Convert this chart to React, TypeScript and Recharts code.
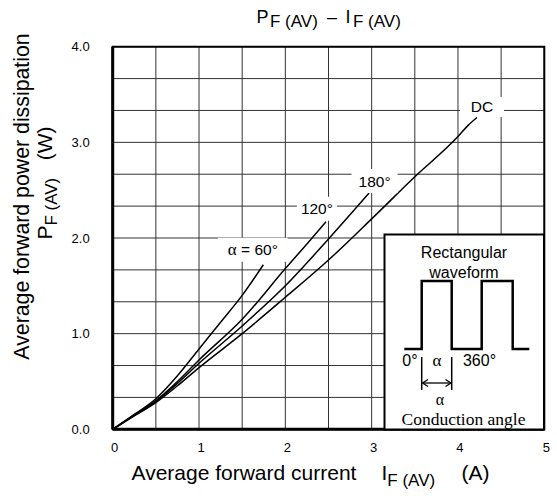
import React from "react";
import {
  LineChart,
  Line,
  XAxis,
  YAxis,
  CartesianGrid,
  ReferenceArea,
  LabelList,
} from "recharts";

// average forward current I_F(AV) (A) vs average forward power P_F(AV) (W)
const currentDC = [0, 0.25, 0.5, 0.75, 1.0, 1.5, 2.0, 2.5, 3.0, 3.5, 4.0, 4.12, 4.22];
const powerDC = [0, 0.14, 0.28, 0.455, 0.645, 1.0, 1.38, 1.77, 2.2, 2.64, 3.06, 3.18, 3.26];

const current180 = [0, 0.25, 0.5, 0.75, 1.0, 1.5, 2.0, 2.5, 2.97];
const power180 = [0, 0.145, 0.29, 0.48, 0.69, 1.08, 1.5, 1.99, 2.47];

const current120 = [0, 0.25, 0.5, 0.75, 1.0, 1.5, 2.0, 2.3, 2.47];
const power120 = [0, 0.15, 0.3, 0.5, 0.725, 1.15, 1.68, 1.99, 2.17];

const current60 = [0, 0.25, 0.5, 0.75, 1.0, 1.25, 1.5, 1.745];
const power60 = [0, 0.155, 0.32, 0.56, 0.84, 1.12, 1.4, 1.72];

const xTicks = [0, 0.5, 1, 1.5, 2, 2.5, 3, 3.5, 4, 4.5, 5];
const yTicks = [0, 1 / 3, 2 / 3, 1, 4 / 3, 5 / 3, 2, 7 / 3, 8 / 3, 3, 10 / 3, 11 / 3, 4];

const SANS = "'Liberation Sans', Arial, sans-serif";
const SERIF = "'Liberation Serif', 'Times New Roman', serif";

const toPoints = (xs: number[], ys: number[]) => xs.map((x, i) => ({ x, y: ys[i] }));

const isInt = (v: number) => Math.abs(v - Math.round(v)) < 1e-6;

type LabelSpec = { text: React.ReactNode; dx: number; dy: number; w: number; h: number };

function endLabel(lastX: number, spec: LabelSpec) {
  return (props: any) => {
    const { x, y, value } = props;
    if (value !== lastX) return null;
    const cx = x + spec.dx;
    const cy = y + spec.dy;
    return (
      <g>
        <rect x={cx - spec.w / 2} y={cy - spec.h / 2} width={spec.w} height={spec.h} fill="#fff" />
        <text
          x={cx}
          y={cy + 5.5}
          textAnchor="middle"
          fontFamily={SANS}
          fontSize={15.5}
          fill="#000"
        >
          {spec.text}
        </text>
      </g>
    );
  };
}

const series = [
  {
    key: "dc",
    data: toPoints(currentDC, powerDC),
    lastX: currentDC[currentDC.length - 1],
    label: { text: "DC", dx: 5, dy: -10.5, w: 44, h: 20 },
  },
  {
    key: "180",
    data: toPoints(current180, power180),
    lastX: current180[current180.length - 1],
    label: { text: "180°", dx: 5.5, dy: -12, w: 46, h: 24 },
  },
  {
    key: "120",
    data: toPoints(current120, power120),
    lastX: current120[current120.length - 1],
    label: { text: "120°", dx: -9, dy: -13, w: 40, h: 24 },
  },
  {
    key: "60",
    data: toPoints(current60, power60),
    lastX: current60[current60.length - 1],
    label: {
      text: (
        <>
          <tspan fontFamily={SERIF} fontSize={17}>α</tspan>
          <tspan> = 60°</tspan>
        </>
      ),
      dx: -10.5,
      dy: -15,
      w: 70,
      h: 24,
    },
  },
];

export default function App() {
  return (
    <div style={{ position: "absolute", left: 0, top: 0, width: 557, height: 499, background: "#fff" }}>
      <LineChart
        width={557}
        height={499}
        margin={{ top: 46.7, right: 12.7, bottom: 39.7, left: 52.7 }}
      >
        <CartesianGrid stroke="#333" strokeWidth={1} />
        <XAxis
          type="number"
          dataKey="x"
          domain={[0, 5]}
          ticks={xTicks}
          interval={0}
          height={30}
          tickLine={false}
          axisLine={{ stroke: "#000", strokeWidth: 3 }}
          tickFormatter={(v: number) => (isInt(v) ? String(v) : "")}
          tick={{ fill: "#000", fontSize: 13, fontFamily: SANS, dx: 2 }}
          tickMargin={7}
          allowDataOverflow
        />
        <YAxis
          type="number"
          domain={[0, 4]}
          ticks={yTicks}
          interval={0}
          width={60}
          tickLine={false}
          axisLine={{ stroke: "#000", strokeWidth: 3 }}
          tickFormatter={(v: number) => (isInt(v) ? v.toFixed(1) : "")}
          tick={{ fill: "#000", fontSize: 13, fontFamily: SANS }}
          tickMargin={17}
          allowDataOverflow
        />
        <ReferenceArea x1={0} x2={5} y1={0} y2={4} fill="none" stroke="#000" strokeWidth={2} />
        {series.map((s) => (
          <Line
            key={s.key}
            data={s.data}
            dataKey="y"
            type="monotone"
            stroke="#000"
            strokeWidth={1.5}
            dot={false}
            isAnimationActive={false}
          >
            <LabelList dataKey="x" content={endLabel(s.lastX, s.label)} />
          </Line>
        ))}
      </LineChart>

      <svg
        width={557}
        height={499}
        style={{ position: "absolute", left: 0, top: 0, pointerEvents: "none" }}
      >
        {/* title: P F(AV) – I F(AV) */}
        <g fontFamily={SANS} fill="#000">
          <text x={256.5} y={23.3} fontSize={18}>P</text>
          <text x={270} y={27} fontSize={17}>F (AV)</text>
          <text x={327} y={23.3} fontSize={18}>–</text>
          <text x={345.5} y={23.3} fontSize={18}>I</text>
          <text x={353} y={27} fontSize={17}>F (AV)</text>
        </g>

        {/* x axis title */}
        <text x={131.5} y={479.5} fontFamily={SANS} fontSize={21} fill="#000">
          Average forward current
        </text>
        <text x={381.5} y={479.5} fontFamily={SANS} fontSize={21} fill="#000">
          I<tspan fontSize={17} dy={6}>F (AV)</tspan>
        </text>
        <text x={461.5} y={479.5} fontFamily={SANS} fontSize={21} fill="#000">
          (A)
        </text>

        {/* y axis title */}
        <text
          transform="translate(29,196.5) rotate(-90)"
          textAnchor="middle"
          fontFamily={SANS}
          fontSize={21.3}
          fill="#000"
        >
          Average forward power dissipation
        </text>
        <text
          transform="translate(51.5,183) rotate(-90)"
          textAnchor="middle"
          fontFamily={SANS}
          fontSize={21}
          fill="#000"
        >
          P<tspan fontSize={17} dy={5}>F (AV)</tspan>
          <tspan dy={-5}>{"\u00a0\u00a0\u00a0(W)"}</tspan>
        </text>

        {/* inset: rectangular waveform */}
        <rect x={384.5} y={234.5} width={159.5} height={195} fill="#fff" stroke="#000" strokeWidth={2} />
        <text x={464} y={257.5} textAnchor="middle" fontFamily={SANS} fontSize={16} fill="#000">
          Rectangular
        </text>
        <polyline
          points="404.3,349 421.7,349 421.7,281 451.7,281 451.7,349 481.7,349 481.7,281 512.7,281 512.7,349 529.3,349"
          fill="none"
          stroke="#000"
          strokeWidth={2.5}
        />
        <text x={464} y={278} textAnchor="middle" fontFamily={SANS} fontSize={16} fill="#000">
          waveform
        </text>
        <text x={410} y={365.5} textAnchor="middle" fontFamily={SANS} fontSize={16} fill="#000">
          0°
        </text>
        <text x={437} y={365.5} textAnchor="middle" fontFamily={SERIF} fontSize={17} fill="#000">
          α
        </text>
        <text x={479.5} y={365.5} textAnchor="middle" fontFamily={SANS} fontSize={16} fill="#000">
          360°
        </text>
        <line x1={421.7} y1={357} x2={421.7} y2={390} stroke="#000" strokeWidth={1.5} />
        <line x1={451.7} y1={357} x2={451.7} y2={390} stroke="#000" strokeWidth={1.5} />
        <line x1={422.5} y1={383} x2={451} y2={383} stroke="#000" strokeWidth={1.3} />
        <polyline points="428,379.5 422.5,383 428,386.5" fill="none" stroke="#000" strokeWidth={1.3} />
        <polyline points="445.5,379.5 451,383 445.5,386.5" fill="none" stroke="#000" strokeWidth={1.3} />
        <text x={440} y={405} textAnchor="middle" fontFamily={SERIF} fontSize={16} fill="#000">
          α
        </text>
        <text x={463.5} y={425} textAnchor="middle" fontFamily={SERIF} fontSize={17.5} fill="#000">
          Conduction angle
        </text>
      </svg>
    </div>
  );
}
